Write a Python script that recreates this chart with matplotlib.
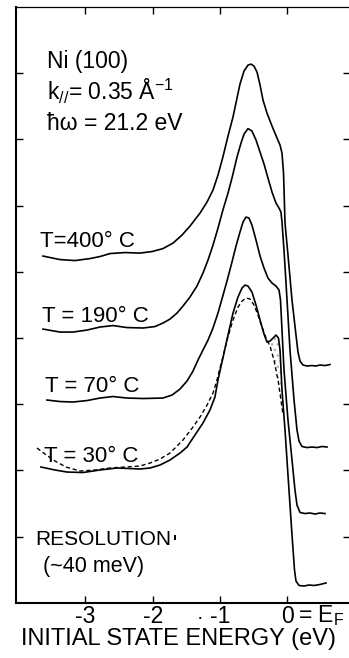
import matplotlib
matplotlib.use("Agg")
import matplotlib.pyplot as plt
import numpy as np

# Fonts
plt.rcParams['font.family'] = 'Liberation Sans'
plt.rcParams['mathtext.fontset'] = 'custom'
plt.rcParams['mathtext.rm'] = 'Liberation Sans'
plt.rcParams['mathtext.default'] = 'regular'

e_400 = [-3.630, -3.378, -3.155, -2.932, -2.783, -2.634, -2.412, -2.189, -2.010, -1.847,
         -1.698, -1.565, -1.446, -1.297, -1.193, -1.104, -1.030, -0.957, -0.881, -0.807,
         -0.747, -0.703, -0.643, -0.584, -0.539, -0.495, -0.450, -0.405, -0.361, -0.302,
         -0.227, -0.153, -0.108, -0.079, -0.056, -0.034, 0.010, 0.070, 0.129, 0.159,
         0.189, 0.233, 0.293, 0.367, 0.426, 0.486, 0.560, 0.634]
i_400 = [5.237, 5.184, 5.169, 5.199, 5.230, 5.275, 5.290, 5.282, 5.305, 5.350,
         5.433, 5.554, 5.690, 5.886, 6.053, 6.234, 6.461, 6.733, 7.050, 7.337,
         7.625, 7.836, 8.032, 8.122, 8.137, 8.107, 8.017, 7.821, 7.594, 7.398,
         7.201, 7.020, 6.914, 6.793, 6.491, 5.736, 5.252, 4.572, 4.044, 3.785,
         3.651, 3.591, 3.576, 3.583, 3.576, 3.591, 3.583, 3.598]

e_190 = [-3.630, -3.378, -3.184, -2.976, -2.783, -2.590, -2.382, -2.144, -1.966, -1.847,
         -1.743, -1.639, -1.550, -1.446, -1.342, -1.253, -1.178, -1.104, -1.030, -0.957,
         -0.881, -0.822, -0.747, -0.688, -0.643, -0.584, -0.525, -0.465, -0.405, -0.346,
         -0.287, -0.227, -0.168, -0.123, -0.094, -0.079, -0.049, -0.004, 0.040, 0.100,
         0.144, 0.174, 0.218, 0.293, 0.367, 0.441, 0.516, 0.590]
i_190 = [4.134, 4.089, 4.089, 4.119, 4.165, 4.187, 4.157, 4.150, 4.172, 4.225,
         4.285, 4.376, 4.482, 4.618, 4.784, 4.980, 5.177, 5.403, 5.659, 5.932,
         6.189, 6.415, 6.733, 6.944, 7.080, 7.163, 7.126, 6.990, 6.808, 6.627,
         6.415, 6.204, 6.038, 5.962, 5.902, 5.751, 5.327, 4.572, 3.817, 3.062,
         2.609, 2.443, 2.360, 2.344, 2.352, 2.344, 2.360, 2.352]

e_70 = [-3.571, -3.378, -3.184, -2.976, -2.783, -2.590, -2.382, -2.144, -1.847, -1.713,
        -1.594, -1.490, -1.401, -1.327, -1.253, -1.178, -1.104, -1.030, -0.971, -0.896,
        -0.822, -0.762, -0.703, -0.658, -0.614, -0.569, -0.525, -0.465, -0.405, -0.346,
        -0.287, -0.227, -0.168, -0.123, -0.101, -0.079, -0.049, 0.010, 0.070, 0.114,
        0.144, 0.189, 0.263, 0.337, 0.412, 0.486, 0.560]
i_70 = [3.062, 3.039, 3.032, 3.054, 3.092, 3.115, 3.092, 3.085, 3.092, 3.137,
        3.228, 3.349, 3.500, 3.666, 3.817, 3.968, 4.150, 4.376, 4.588, 4.860,
        5.147, 5.388, 5.600, 5.751, 5.826, 5.811, 5.705, 5.479, 5.237, 5.056,
        4.905, 4.829, 4.784, 4.724, 4.572, 4.119, 3.515, 2.760, 2.156, 1.702,
        1.476, 1.363, 1.347, 1.355, 1.340, 1.355, 1.347]

e_30 = [-3.660, -3.452, -3.273, -3.035, -2.783, -2.531, -2.337, -2.189, -2.040, -1.891,
        -1.743, -1.594, -1.490, -1.372, -1.253, -1.149, -1.075, -1.030, -0.957, -0.881,
        -0.807, -0.733, -0.673, -0.629, -0.584, -0.525, -0.465, -0.405, -0.346, -0.302,
        -0.257, -0.212, -0.168, -0.131, -0.108, -0.079, -0.034, 0.025, 0.070, 0.107,
        0.129, 0.174, 0.248, 0.322, 0.397, 0.486, 0.575]
i_30 = [2.050, 2.005, 1.974, 1.967, 2.005, 2.035, 2.027, 2.020, 2.035, 2.080,
        2.156, 2.261, 2.352, 2.533, 2.715, 2.911, 3.107, 3.364, 3.696, 4.044,
        4.376, 4.618, 4.754, 4.799, 4.784, 4.693, 4.497, 4.270, 4.059, 3.938,
        3.953, 3.998, 4.044, 3.998, 3.817, 3.213, 2.609, 1.702, 1.023, 0.494,
        0.328, 0.260, 0.252, 0.267, 0.260, 0.275, 0.298]

# dashed comparison curve under the 30 C spectrum
e_dash = [-3.719, -3.600, -3.452, -3.288, -3.080, -2.857, -2.634, -2.412, -2.189, -2.040,
          -1.891, -1.743, -1.550, -1.401, -1.297, -1.193, -1.104, -1.045, -1.001, -0.957,
          -0.896, -0.807, -0.733, -0.673, -0.614, -0.554, -0.495, -0.435, -0.376, -0.316,
          -0.257, -0.198, -0.138, -0.094, -0.064]
i_dash = [2.337, 2.246, 2.140, 2.050, 1.989, 2.005, 2.035, 2.050, 2.065, 2.110,
          2.171, 2.261, 2.458, 2.654, 2.805, 2.985, 3.168, 3.364, 3.545, 3.711,
          3.968, 4.270, 4.467, 4.557, 4.603, 4.588, 4.497, 4.346, 4.165, 3.998,
          3.878, 3.666, 3.364, 3.062, 2.835]

xticks = [-3, -2, -1, 0]
xticklabels = ['-3', '-2', '-1', '0']
yticks = [1, 2, 3, 4, 5, 6, 7, 8]

labels = ['T=400° C', 'T = 190° C', 'T = 70° C', 'T = 30° C']
label_pos = [(-3.675, 5.373), (-3.645, 4.240), (-3.600, 3.183), (-3.620, 2.125)]
resolution_ev = 0.04

fig = plt.figure(figsize=(3.49, 6.58), dpi=100)
ax = fig.add_axes([16 / 349, 55.3 / 658, 334.5 / 349, 595.7 / 658])

for e, i in [(e_400, i_400), (e_190, i_190), (e_70, i_70), (e_30, i_30)]:
    ax.plot(e, i, color='black', lw=1.2, solid_joinstyle='round')
ax.plot(e_dash, i_dash, color='black', lw=1.0, linestyle=(0, (3, 2)))

# stippled area between the dashed curve and the 30 C shoulder
e30 = np.array(e_30)
ed = np.array(e_dash)
m1 = (e30 > -0.36) & (e30 < -0.07)
m2 = (ed > -0.33) & (ed < -0.08)
px = np.concatenate([e30[m1], ed[m2][::-1]])
py = np.concatenate([np.array(i_30)[m1], np.array(i_dash)[m2][::-1]])
ax.fill(px, py, facecolor='none', edgecolor='0.7', hatch='...', lw=0)

ax.set_xlim(-4.031, 0.939)
ax.set_ylim(0, 9)
ax.set_xticks(xticks)
ax.set_xticklabels(xticklabels)
ax.set_yticks(yticks)
ax.tick_params(axis='both', direction='in', length=5, width=1.0,
               top=True, right=True, labelleft=False, labelsize=16.5, pad=1.5)
for s in ['left', 'bottom']:
    ax.spines[s].set_linewidth(1.5)
ax.spines['top'].set_linewidth(0.9)

ax.set_xlabel('INITIAL STATE ENERGY (eV)', fontsize=17, loc='left')
ax.xaxis.set_label_coords(0.016, -0.043)

ax.text(0.16, -0.287, '= E$_F$', fontsize=16.5, va='baseline', clip_on=False)
ax.text(-1.30, -0.30, '·', fontsize=14, va='baseline', ha='center', clip_on=False)

ax.text(-3.575, 8.077, 'Ni (100)', fontsize=16.5, va='baseline')
ax.text(-3.575, 7.594, 'k$_{//}$= 0.35 Å$^{-1}$', fontsize=16.5, va='baseline')
ax.text(-3.575, 7.140, 'ħω = 21.2 eV', fontsize=16.5, va='baseline')

for lab, (x, y) in zip(labels, label_pos):
    ax.text(x, y, lab, fontsize=16, va='baseline')

ax.text(-3.749, 0.872, 'RESOLUTION', fontsize=15, va='baseline')
ax.bar([-1.669], [0.08], width=resolution_ev, bottom=0.95, color='black')
ax.text(-3.630, 0.464, '(~40 meV)', fontsize=15.5, va='baseline')

fig.savefig('out.png', dpi=100)
